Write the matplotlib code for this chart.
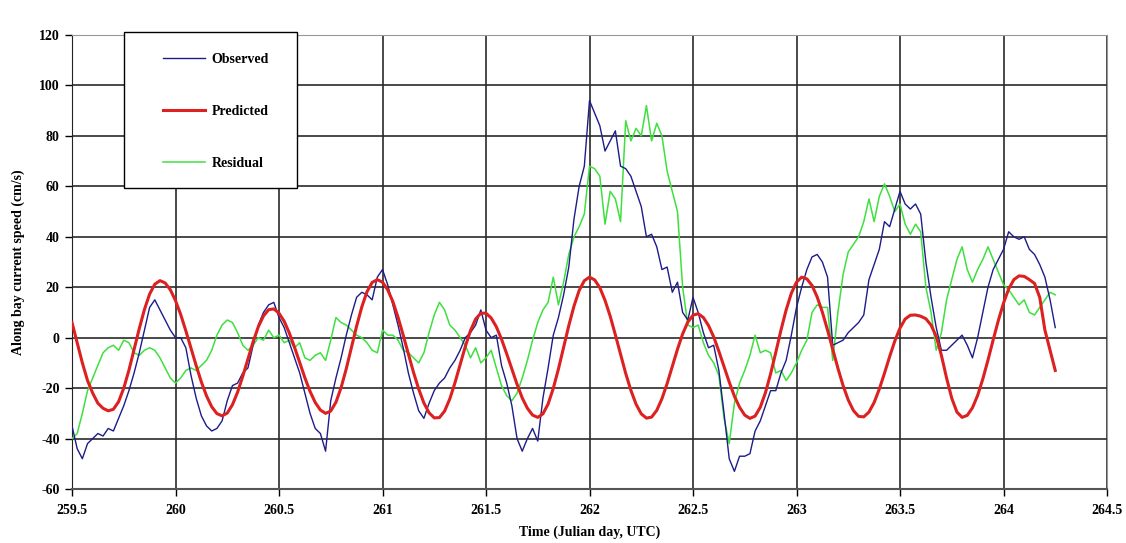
import numpy as np
import matplotlib
matplotlib.use("Agg")
import matplotlib.pyplot as plt
from matplotlib.patches import Rectangle

# along-bay current speed (cm/s), one value every 0.025 day from 259.5
t_start = 259.5
t_step = 0.025

observed = [
    -35, -44, -48, -42, -40, -38, -39, -36, -37, -32,
    -27, -21, -14, -6, 3, 12, 15, 11, 7, 3,
    0, 0, -4, -15, -24, -31, -35, -37, -36, -33,
    -25, -19, -18, -14, -12, -3, 5, 10, 13, 14,
    8, 4, -2, -8, -14, -22, -30, -36, -38, -45,
    -25, -16, -8, 1, 9, 16, 18, 17, 15, 24,
    27, 21, 13, 5, -4, -14, -22, -29, -32, -26,
    -21, -18, -16, -12, -9, -5, 0, 2, 5, 11,
    3, 0, 1, -11, -18, -27, -40, -45, -40, -36,
    -41, -24, -12, 1, 8, 17, 28, 47, 60, 68,
    94, 89, 84, 74, 78, 82, 68, 67, 64, 58,
    52, 40, 41, 36, 27, 28, 18, 22, 10, 7,
    16, 10, 2, -4, -3, -13, -30, -48, -53, -47,
    -47, -46, -37, -33, -27, -21, -21, -14, -9, 1,
    12, 20, 27, 32, 33, 30, 24, -3, -2, -1,
    2, 4, 6, 9, 23, 29, 35, 46, 44, 51,
    58, 53, 51, 53, 49, 30, 16, 4, -5, -5,
    -3, -1, 1, -3, -8, 0, 10, 20, 27, 31,
    35, 42, 40, 39, 40, 35, 33, 29, 24, 15,
    4,
]

predicted = [
    6, -2, -10, -17, -22, -26, -28, -29, -28.4, -25.4,
    -20.0, -12.9, -4.7, 3.6, 11.2, 17.3, 21.2, 22.6, 21.7, 19.0,
    14.7, 9.2, 2.7, -4.2, -11.1, -17.6, -23.1, -27.4, -30.1, -31,
    -29.9, -26.6, -21.6, -15.3, -8.4, -1.6, 4.3, 8.6, 11.1, 11.4,
    9.7, 6.5, 1.8, -3.8, -9.9, -15.9, -21.3, -25.7, -28.7, -30,
    -29.1, -25.6, -19.8, -12.3, -3.8, 4.6, 12.2, 18.2, 21.9, 23,
    22.0, 19.0, 14.3, 8.1, 1.0, -6.5, -13.8, -20.4, -25.9, -29.8,
    -31.8, -31.7, -29.1, -24.3, -17.9, -10.7, -3.5, 2.8, 7.4, 9.7,
    9.7, 7.8, 4.3, -0.6, -6.4, -12.5, -18.5, -23.9, -28.0, -30.7,
    -31.6, -30.2, -26.3, -20.1, -12.4, -3.8, 4.8, 12.5, 18.7, 22.6,
    24, 22.9, 19.8, 14.8, 8.5, 1.1, -6.6, -14.2, -20.9, -26.4,
    -30.2, -31.9, -31.5, -28.8, -24.2, -18.2, -11.4, -4.6, 1.5, 6.2,
    8.9, 9.5, 8.0, 4.8, 0.3, -5.4, -11.5, -17.6, -23.2, -27.6,
    -30.7, -32, -31.1, -27.6, -21.8, -14.3, -5.8, 3.0, 11.0, 17.6,
    22.0, 24, 23.3, 20.7, 16.1, 10.1, 3.0, -4.6, -12.1, -19.0,
    -24.7, -28.9, -31.2, -31.4, -29.5, -25.7, -20.4, -14.1, -7.5, -1.3,
    3.8, 7.4, 8.9, 9, 8.5, 7.5, 5, 0.5, -7, -16,
    -24, -29.5, -31.6, -30.8, -27.8, -22.9, -16.4, -8.9, -0.9, 6.8,
    13.7, 19.3, 23.0, 24.5, 24.3, 23, 21.5, 16, 3, -5,
    -13,
]

residual = [
    -40, -38, -30, -21, -16, -11, -6, -4, -3, -5,
    -1, -2, -6, -7, -5, -4, -5, -8, -12, -16,
    -18, -16, -13, -12, -13, -11, -9, -5, 1, 5,
    7, 6, 2, -3, -5, -3, 0, -1, 3, 0,
    1, -2, -1, -4, -2, -8, -9, -7, -6, -9,
    -1, 8, 6, 5, 3, 1, 0, -2, -5, -6,
    3, 1, 1, -1, -5, -6, -8, -10, -6, 2,
    9, 14, 11, 5, 3, 0, -3, -8, -4, -10,
    -8, -5, -12, -19, -23, -25, -22, -16, -9, -1,
    6, 11, 14, 24, 13, 22, 33, 40, 44, 49,
    68, 67, 64, 45, 58, 55, 46, 86, 78, 83,
    80, 92, 78, 85, 80, 66, 58, 50, 20, 5,
    4, 5, -2, -7, -10, -15, -32, -42, -26, -18,
    -13, -7, 1, -6, -5, -6, -14, -13, -17, -14,
    -10, -5, -1, 10, 13, 12, 12, -9, 10, 25,
    34, 37, 40, 46, 55, 46, 56, 61, 56, 50,
    53, 45, 41, 45, 42, 20, 10, -5, 2, 15,
    23, 31, 36, 27, 22, 27, 31, 36, 31, 26,
    21, 19, 16, 13, 15, 10, 9, 12, 15, 18,
    17,
]

x_ticks = [259.5, 260, 260.5, 261, 261.5, 262, 262.5, 263, 263.5, 264, 264.5]
x_labels = ["259.5", "260", "260.5", "261", "261.5", "262", "262.5", "263", "263.5", "264", "264.5"]
y_ticks = [-60, -40, -20, 0, 20, 40, 60, 80, 100, 120]


def times(values):
    return t_start + t_step * np.arange(len(values))


plt.rcParams['font.family'] = ['Liberation Serif', 'DejaVu Serif']
plt.rcParams['font.weight'] = 'bold'
plt.rcParams['axes.unicode_minus'] = False

fig = plt.figure(figsize=(11.26, 5.43), dpi=100)
ax = fig.add_axes([72 / 1126, 1 - 489 / 543, (1107 - 72) / 1126, (489 - 35) / 543])

ax.plot(times(residual), residual, color='#3ee03e', lw=1.1, label='Residual', zorder=3)
ax.plot(times(observed), observed, color='#1c1c8a', lw=1.0, label='Observed', zorder=4)
ax.plot(times(predicted), predicted, color='#dd2020', lw=2.2, label='Predicted', zorder=5)

ax.set_xlim(259.5, 264.5)
ax.set_ylim(-60, 120)
ax.set_xticks(x_ticks)
ax.set_xticklabels(x_labels)
ax.set_yticks(y_ticks)
ax.grid(True, color='#2a2a2a', lw=1.2, zorder=1)
ax.set_axisbelow(True)

for side in ['top', 'right']:
    ax.spines[side].set_color('#999999')
ax.spines['left'].set_color('#222222')
ax.spines['bottom'].set_color('#555555')
ax.spines['bottom'].set_linewidth(1.5)
ax.tick_params(direction='out', length=5, width=1, labelsize=10, colors='black', pad=4)
ax.tick_params(axis='x', pad=6)

ax.set_xlabel('Time (Julian day, UTC)', fontsize=10, fontweight='bold', labelpad=6)
ax.set_ylabel('Along bay current speed (cm/s)', fontsize=10, fontweight='bold', labelpad=10)

# legend box, drawn over the plot area
box = Rectangle((124 / 1126, 1 - 188 / 543), (297 - 124) / 1126, (188 - 32) / 543,
                transform=fig.transFigure, facecolor='white', edgecolor='black', lw=1.0, zorder=10)
fig.patches.append(box)
handles, labels = ax.get_legend_handles_labels()
order = [1, 2, 0]
leg = fig.legend([handles[i] for i in order], [labels[i] for i in order],
                 loc='upper left', bbox_to_anchor=(163 / 1126, 1 - 53 / 543),
                 frameon=False, fontsize=10, handlelength=3.0, handletextpad=0.5,
                 labelspacing=2.8, borderpad=0, borderaxespad=0)
leg.set_zorder(11)

fig.savefig('out.png', dpi=100, facecolor='white')
